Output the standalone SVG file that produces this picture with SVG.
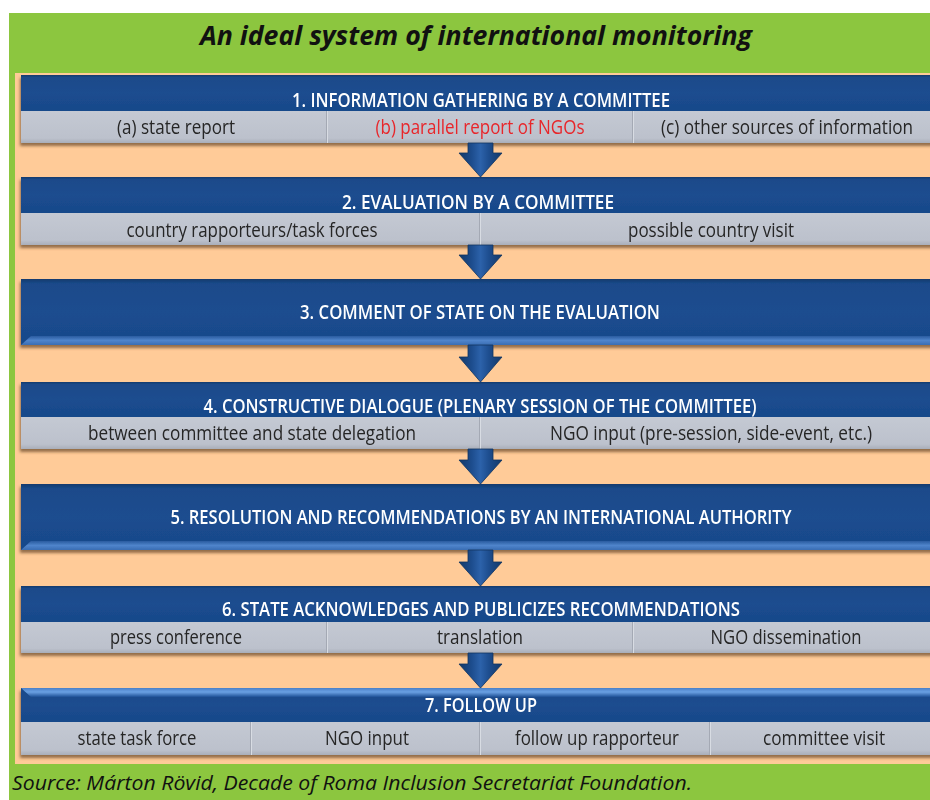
<svg xmlns="http://www.w3.org/2000/svg" width="930" height="800" viewBox="0 0 930 800">
  <defs>
    <style>
      .title { font-family: "Open Sans", "Noto Sans", sans-serif; font-weight: 700; font-style: italic; font-size: 27px; fill: #111; }
      .source { font-family: "Open Sans", "Noto Sans", sans-serif; font-style: italic; font-size: 20.5px; fill: #111; }
      .head { font-family: "Open Sans", "Noto Sans", sans-serif; font-weight: 600; font-size: 19px; fill: #ffffff; text-anchor: middle; }
      .cell { font-family: "Open Sans", "Noto Sans", sans-serif; font-weight: 500; font-size: 20px; fill: #262626; text-anchor: middle; }
      .red { fill: #e8262b; }
      .blue { fill: url(#blueGrad); }
      .gray { fill: url(#grayGrad); }
      .div-dark { stroke: #a4a9b4; stroke-width: 1; }
      .div-light { stroke: #d8dce3; stroke-width: 1; }
      .arrow { fill: url(#arrowGrad); stroke: #12355f; stroke-width: 0.8; }
      .bevel { fill: url(#bevelGrad); }
      .bevelTop { fill: url(#bevelTopGrad); }
    </style>
    <linearGradient id="blueGrad" x1="0" y1="0" x2="0" y2="1">
      <stop offset="0" stop-color="#123a6c"/>
      <stop offset="0.07" stop-color="#1a4a8a"/>
      <stop offset="0.5" stop-color="#1b4d8f"/>
      <stop offset="1" stop-color="#18488a"/>
    </linearGradient>
    <linearGradient id="grayGrad" x1="0" y1="0" x2="0" y2="1">
      <stop offset="0" stop-color="#c4c9d3"/>
      <stop offset="0.85" stop-color="#bcc1cc"/>
      <stop offset="1" stop-color="#a9aeb9"/>
    </linearGradient>
    <linearGradient id="bevelGrad" x1="0" y1="0" x2="0" y2="1">
      <stop offset="0" stop-color="#2a5ca0"/>
      <stop offset="0.5" stop-color="#4f84cb"/>
      <stop offset="1" stop-color="#3a6db3"/>
    </linearGradient>
    <linearGradient id="bevelTopGrad" x1="0" y1="0" x2="0" y2="1">
      <stop offset="0" stop-color="#4a80c8"/>
      <stop offset="0.45" stop-color="#6aa0e2"/>
      <stop offset="1" stop-color="#1f5196"/>
    </linearGradient>
    <linearGradient id="arrowGrad" x1="0" y1="0" x2="1" y2="0">
      <stop offset="0" stop-color="#143968"/>
      <stop offset="0.3" stop-color="#1d4d8e"/>
      <stop offset="0.5" stop-color="#2c62aa"/>
      <stop offset="0.7" stop-color="#1d4d8e"/>
      <stop offset="1" stop-color="#143968"/>
    </linearGradient>
    <filter id="shadow" x="-5%" y="-20%" width="110%" height="150%">
      <feDropShadow dx="-1" dy="3" stdDeviation="1.8" flood-color="#5a3a1c" flood-opacity="0.65"/>
    </filter>
  </defs>

  <!-- frame -->
  <g id="frame">
    <rect x="0" y="0" width="930" height="800" fill="#ffffff"/>
    <rect x="9" y="13" width="921" height="787" fill="#8cc63f"/>
    <rect x="15" y="73" width="915" height="691" fill="#ffcb98"/>
  </g>

  <text class="title" x="476" y="45" text-anchor="middle" textLength="552" lengthAdjust="spacingAndGlyphs">An ideal system of international monitoring</text>

  <!-- step 1 -->
  <g id="step1" filter="url(#shadow)">
    <rect class="blue" x="21" y="75" width="919" height="36"/>
    <rect class="gray" x="21" y="111" width="919" height="32"/>
    <line class="div-dark" x1="326.5" y1="111" x2="326.5" y2="143"/>
    <line class="div-light" x1="327.5" y1="111" x2="327.5" y2="143"/>
    <line class="div-dark" x1="632.5" y1="111" x2="632.5" y2="143"/>
    <line class="div-light" x1="633.5" y1="111" x2="633.5" y2="143"/>
    <text class="head" x="481" y="107" textLength="378" lengthAdjust="spacingAndGlyphs">1. INFORMATION GATHERING BY A COMMITTEE</text>
    <text class="cell" x="176" y="134" textLength="118" lengthAdjust="spacingAndGlyphs">(a) state report</text>
    <text class="cell red" x="480" y="134" textLength="209" lengthAdjust="spacingAndGlyphs">(b) parallel report of NGOs</text>
    <text class="cell" x="787" y="134" textLength="252" lengthAdjust="spacingAndGlyphs">(c) other sources of information</text>
  </g>

  <!-- step 2 -->
  <g id="step2" filter="url(#shadow)">
    <rect class="blue" x="21" y="177" width="919" height="36"/>
    <rect class="gray" x="21" y="213" width="919" height="32"/>
    <line class="div-dark" x1="479.5" y1="213" x2="479.5" y2="245"/>
    <line class="div-light" x1="480.5" y1="213" x2="480.5" y2="245"/>
    <text class="head" x="478" y="209" textLength="272" lengthAdjust="spacingAndGlyphs">2. EVALUATION BY A COMMITTEE</text>
    <text class="cell" x="252" y="237" textLength="251" lengthAdjust="spacingAndGlyphs">country rapporteurs/task forces</text>
    <text class="cell" x="711" y="237" textLength="166" lengthAdjust="spacingAndGlyphs">possible country visit</text>
  </g>

  <!-- step 3 -->
  <g id="step3" filter="url(#shadow)">
    <rect class="blue" x="21" y="279" width="919" height="66"/>
    <polygon class="bevel" points="21,345 31,336 940,336 940,345"/>
    <text class="head" x="480" y="319" textLength="360" lengthAdjust="spacingAndGlyphs">3. COMMENT OF STATE ON THE EVALUATION</text>
  </g>

  <!-- step 4 -->
  <g id="step4" filter="url(#shadow)">
    <rect class="blue" x="21" y="382" width="919" height="35"/>
    <rect class="gray" x="21" y="417" width="919" height="32"/>
    <line class="div-dark" x1="479.5" y1="417" x2="479.5" y2="449"/>
    <line class="div-light" x1="480.5" y1="417" x2="480.5" y2="449"/>
    <text class="head" x="480" y="413" textLength="553" lengthAdjust="spacingAndGlyphs">4. CONSTRUCTIVE DIALOGUE (PLENARY SESSION OF THE COMMITTEE)</text>
    <text class="cell" x="252" y="440" textLength="328" lengthAdjust="spacingAndGlyphs">between committee and state delegation</text>
    <text class="cell" x="711" y="440" textLength="322" lengthAdjust="spacingAndGlyphs">NGO input (pre-session, side-event, etc.)</text>
  </g>

  <!-- step 5 -->
  <g id="step5" filter="url(#shadow)">
    <rect class="blue" x="21" y="484" width="919" height="66"/>
    <polygon class="bevel" points="21,550 31,541 940,541 940,550"/>
    <text class="head" x="481" y="524" textLength="621" lengthAdjust="spacingAndGlyphs">5. RESOLUTION AND RECOMMENDATIONS BY AN INTERNATIONAL AUTHORITY</text>
  </g>

  <!-- step 6 -->
  <g id="step6" filter="url(#shadow)">
    <rect class="blue" x="21" y="586" width="919" height="36"/>
    <rect class="gray" x="21" y="622" width="919" height="31"/>
    <line class="div-dark" x1="326.5" y1="622" x2="326.5" y2="653"/>
    <line class="div-light" x1="327.5" y1="622" x2="327.5" y2="653"/>
    <line class="div-dark" x1="632.5" y1="622" x2="632.5" y2="653"/>
    <line class="div-light" x1="633.5" y1="622" x2="633.5" y2="653"/>
    <text class="head" x="481" y="616" textLength="518" lengthAdjust="spacingAndGlyphs">6. STATE ACKNOWLEDGES AND PUBLICIZES RECOMMENDATIONS</text>
    <text class="cell" x="176" y="644" textLength="132" lengthAdjust="spacingAndGlyphs">press conference</text>
    <text class="cell" x="480" y="644" textLength="86" lengthAdjust="spacingAndGlyphs">translation</text>
    <text class="cell" x="786" y="644" textLength="151" lengthAdjust="spacingAndGlyphs">NGO dissemination</text>
  </g>

  <!-- step 7 -->
  <g id="step7" filter="url(#shadow)">
    <rect class="blue" x="21" y="688" width="919" height="34"/>
    <polygon class="bevelTop" points="21,688 940,688 940,697 31,697"/>
    <rect class="gray" x="21" y="722" width="919" height="33"/>
    <line class="div-dark" x1="250.5" y1="722" x2="250.5" y2="755"/>
    <line class="div-light" x1="251.5" y1="722" x2="251.5" y2="755"/>
    <line class="div-dark" x1="479.5" y1="722" x2="479.5" y2="755"/>
    <line class="div-light" x1="480.5" y1="722" x2="480.5" y2="755"/>
    <line class="div-dark" x1="709.5" y1="722" x2="709.5" y2="755"/>
    <line class="div-light" x1="710.5" y1="722" x2="710.5" y2="755"/>
    <text class="head" x="481" y="712" textLength="112" lengthAdjust="spacingAndGlyphs">7. FOLLOW UP</text>
    <text class="cell" x="137" y="745" textLength="119" lengthAdjust="spacingAndGlyphs">state task force</text>
    <text class="cell" x="367" y="745" textLength="84" lengthAdjust="spacingAndGlyphs">NGO input</text>
    <text class="cell" x="597" y="745" textLength="164" lengthAdjust="spacingAndGlyphs">follow up rapporteur</text>
    <text class="cell" x="824" y="745" textLength="122" lengthAdjust="spacingAndGlyphs">committee visit</text>
  </g>

  <!-- downward arrows between the steps -->
  <g id="connectors">
    <path class="arrow" d="M468,143 H493 V153 H502 L480.5,177 L459,153 H468 Z"/>
    <path class="arrow" d="M468,245 H493 V255 H502 L480.5,279 L459,255 H468 Z"/>
    <path class="arrow" d="M468,345 H493 V357 H502 L480.5,382 L459,357 H468 Z"/>
    <path class="arrow" d="M468,449 H493 V460 H502 L480.5,484 L459,460 H468 Z"/>
    <path class="arrow" d="M468,550 H493 V562 H502 L480.5,586 L459,562 H468 Z"/>
    <path class="arrow" d="M468,653 H493 V664 H502 L480.5,688 L459,664 H468 Z"/>
  </g>

  <text class="source" x="12" y="790" textLength="680" lengthAdjust="spacingAndGlyphs">Source: Márton Rövid, Decade of Roma Inclusion Secretariat Foundation.</text>
</svg>
